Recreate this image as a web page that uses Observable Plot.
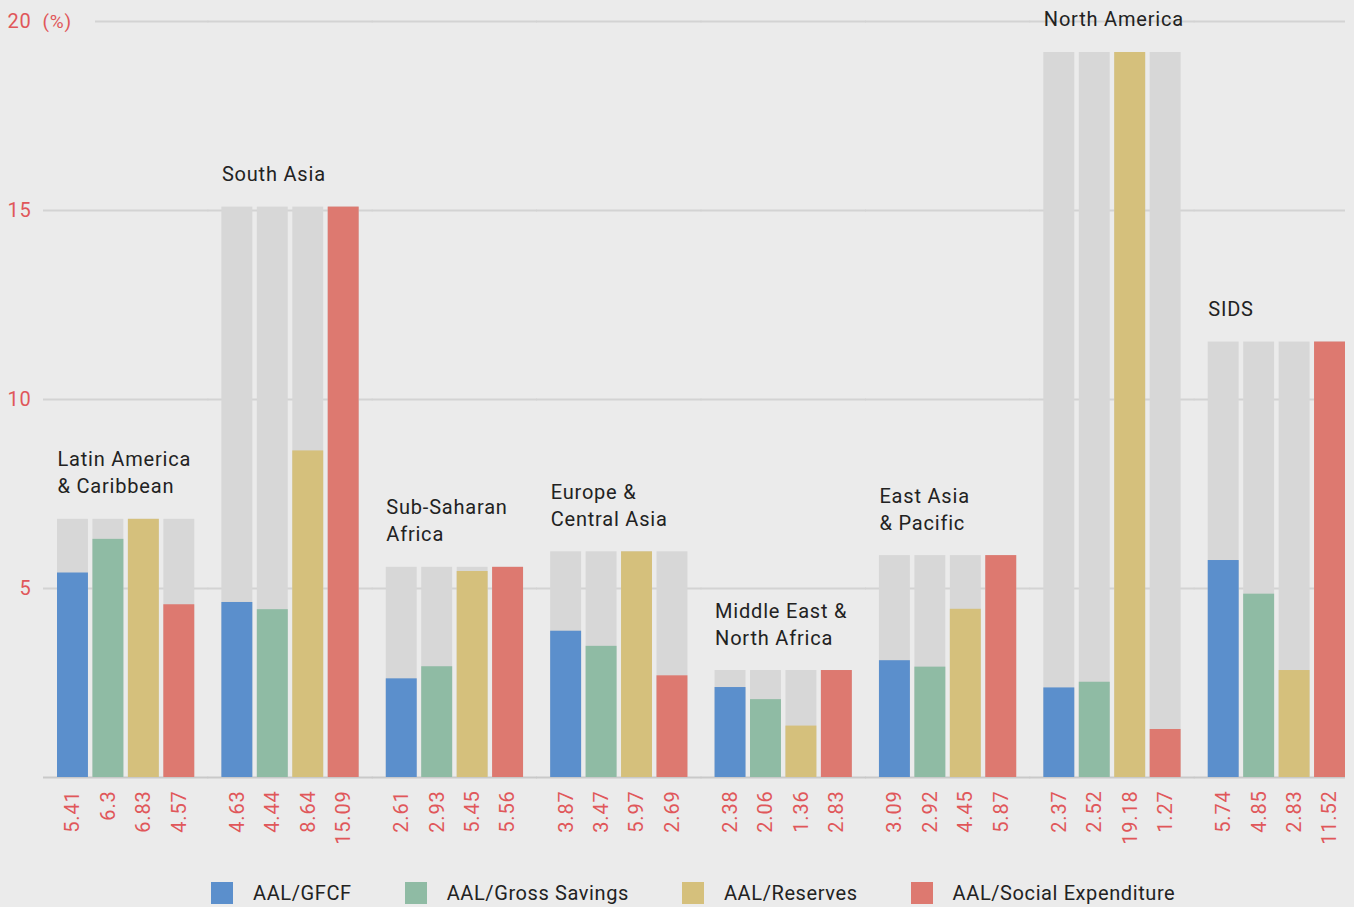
<!DOCTYPE html>
<html>
<head>
<meta charset="utf-8">
<script src="https://cdn.jsdelivr.net/npm/d3@7"></script>
<script src="https://cdn.jsdelivr.net/npm/@observablehq/plot@0.6"></script>
<style>
  html, body { margin: 0; padding: 0; background: #ebebeb; }
  body { width: 1354px; height: 907px; overflow: hidden; font-family: Roboto, "Noto Sans", sans-serif; }
  #legend { display: flex; align-items: center; gap: 53px; padding-left: 211px; margin-top: 21px; }
  .item { display: flex; align-items: center; gap: 20px; font-size: 20px; color: #222; letter-spacing: 0.6px; }
  .sw { width: 22px; height: 22px; display: inline-block; }
</style>
</head>
<body>
<div id="chart"></div>
<div id="legend"></div>
<script>
const regions = ["Latin America & Caribbean", "South Asia", "Sub-Saharan Africa", "Europe & Central Asia", "Middle East & North Africa", "East Asia & Pacific", "North America", "SIDS"];
const regionLabels = ["Latin America\n& Caribbean", "South Asia", "Sub-Saharan\nAfrica", "Europe &\nCentral Asia", "Middle East &\nNorth Africa", "East Asia\n& Pacific", "North America", "SIDS"];
const series = ["AAL/GFCF", "AAL/Gross Savings", "AAL/Reserves", "AAL/Social Expenditure"];
const colors = ["#5b8fcc", "#8fbba4", "#d5c07c", "#dd7970"];
const gfcf = [5.41, 4.63, 2.61, 3.87, 2.38, 3.09, 2.37, 5.74];
const grossSavings = [6.3, 4.44, 2.93, 3.47, 2.06, 2.92, 2.52, 4.85];
const reserves = [6.83, 8.64, 5.45, 5.97, 1.36, 4.45, 19.18, 2.83];
const socialExp = [4.57, 15.09, 5.56, 2.69, 2.83, 5.87, 1.27, 11.52];
const yTicks = [5, 10, 15, 20];

const valuesBySeries = [gfcf, grossSavings, reserves, socialExp];
const data = [];
regions.forEach((r, i) => series.forEach((s, j) => data.push({region: r, series: s, value: valuesBySeries[j][i]})));
const groupMax = new Map(regions.map((r, i) => [r, d3.max(valuesBySeries, v => v[i])]));
const labels = regions.map((r, i) => ({region: r, label: regionLabels[i], top: groupMax.get(r)}));

const first = regions[0], last = regions[regions.length - 1];
const gridMid = [], gridFirst20 = [], gridLast = [];
regions.forEach(r => yTicks.forEach(t => {
  if (r === first && t === 20) gridFirst20.push({region: r, y: t});
  else if (r === last) gridLast.push({region: r, y: t});
  else gridMid.push({region: r, y: t});
}));
const baseMid = regions.filter(r => r !== last).map(r => ({region: r, y: 0}));
const baseLast = [{region: last, y: 0}];

const RED = "#e0575a";
const GRID = "#d3d3d3";

const chart = Plot.plot({
  width: 1354,
  height: 860,
  marginLeft: 57,
  marginRight: 9,
  marginTop: 21,
  marginBottom: 83,
  style: {background: "#ebebeb", fontFamily: "Roboto, 'Noto Sans', sans-serif", letterSpacing: "0.8px", overflow: "visible"},
  fx: {domain: regions, paddingInner: 0.165, paddingOuter: 0, round: false, axis: null},
  x: {domain: series, paddingInner: 0.127, paddingOuter: 0, round: false, axis: null},
  y: {domain: [0, 20]},
  color: {domain: series, range: colors},
  marks: [
    Plot.ruleY(gridMid, {fx: "region", y: "y", stroke: GRID, strokeWidth: 2, insetLeft: -14, insetRight: -14}),
    Plot.ruleY(gridFirst20, {fx: "region", y: "y", stroke: GRID, strokeWidth: 2, insetLeft: 38, insetRight: -14}),
    Plot.ruleY(gridLast, {fx: "region", y: "y", stroke: GRID, strokeWidth: 2, insetLeft: -14, insetRight: 0}),
    Plot.ruleY(baseMid, {fx: "region", y: "y", stroke: "#c9c9c9", strokeWidth: 2, insetLeft: -14, insetRight: -14}),
    Plot.ruleY(baseLast, {fx: "region", y: "y", stroke: "#c9c9c9", strokeWidth: 2, insetLeft: -14, insetRight: 0}),
    Plot.barY(data, {fx: "region", x: "series", y: d => groupMax.get(d.region), fill: "#d7d7d7"}),
    Plot.barY(data, {fx: "region", x: "series", y: "value", fill: "series"}),
    Plot.text(data, {fx: "region", x: "series", y: 0, text: d => String(d.value), rotate: -90, textAnchor: "end", lineAnchor: "middle", dy: 13, fill: RED, fontSize: 20}),
    Plot.text(labels, {fx: "region", y: "top", text: "label", frameAnchor: "left", textAnchor: "start", lineAnchor: "bottom", lineHeight: 1.35, dy: -26, fill: "#222", fontSize: 20}),
    Plot.axisY({ticks: yTicks, tickSize: 0, tickPadding: 26, fill: RED, fontSize: 20}),
    Plot.text([{region: first, y: 20}], {fx: "region", y: "y", text: () => "(%)", frameAnchor: "left", textAnchor: "start", dx: -15, fill: RED, fontSize: 19})
  ]
});
document.getElementById("chart").appendChild(chart);

const legend = document.getElementById("legend");
series.forEach((s, i) => {
  const item = document.createElement("div");
  item.className = "item";
  item.innerHTML = `<span class="sw" style="background:${colors[i]}"></span><span>${s}</span>`;
  legend.appendChild(item);
});
</script>
</body>
</html>
